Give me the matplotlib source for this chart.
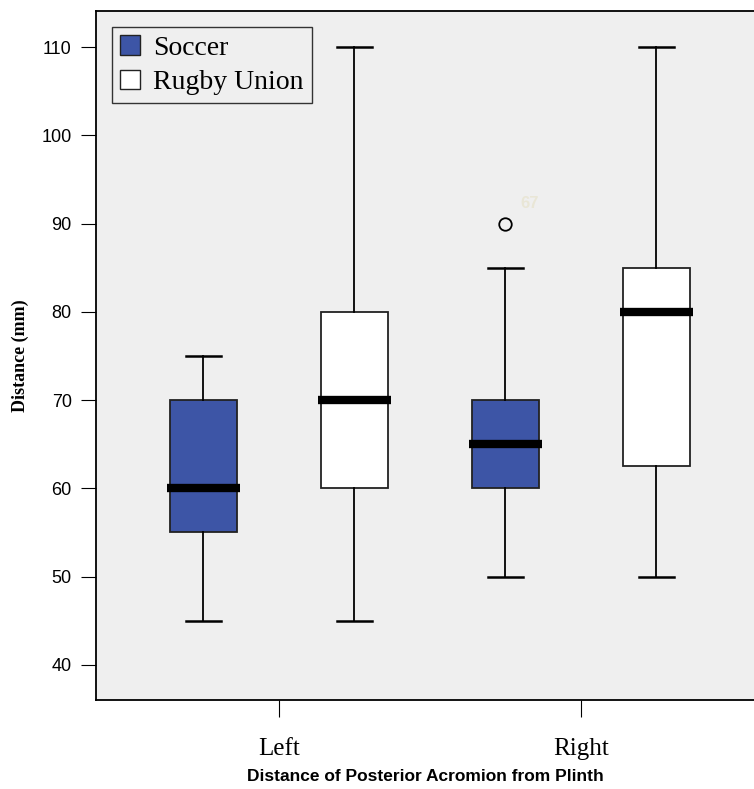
import matplotlib
matplotlib.use("Agg")
import matplotlib.pyplot as plt
from matplotlib.patches import Patch
import numpy as np

# Box summaries (mm)
sides = ["Left", "Right"]
groups = ["Soccer", "Rugby Union"]
group_colors = ["#3d55a6", "#ffffff"]
whislo = {"Soccer": [45, 50], "Rugby Union": [45, 50]}
q1 = {"Soccer": [55, 60], "Rugby Union": [60, 62.5]}
med = {"Soccer": [60, 65], "Rugby Union": [70, 80]}
q3 = {"Soccer": [70, 70], "Rugby Union": [80, 85]}
whishi = {"Soccer": [75, 85], "Rugby Union": [110, 110]}
fliers = {"Soccer": [[], [90]], "Rugby Union": [[], []]}
flier_ids = {"Soccer": [[], ["67"]], "Rugby Union": [[], []]}
yticks = [40, 50, 60, 70, 80, 90, 100, 110]

serif = ["Liberation Serif", "DejaVu Serif"]
sans = ["Liberation Sans", "DejaVu Sans"]

fig = plt.figure(figsize=(7.54, 7.89), dpi=100)
ax = fig.add_axes([0.1273, 0.1128, 0.8727, 0.8732])
ax.set_facecolor("#efefef")

offsets = [-0.25, 0.25]
for g, name in enumerate(groups):
    stats = []
    for i in range(len(sides)):
        stats.append(dict(med=med[name][i], q1=q1[name][i], q3=q3[name][i],
                          whislo=whislo[name][i], whishi=whishi[name][i],
                          fliers=fliers[name][i]))
    pos = np.arange(1, len(sides) + 1) + offsets[g]
    ax.bxp(stats, positions=pos, widths=0.22, patch_artist=True,
           boxprops=dict(facecolor=group_colors[g], edgecolor="#222222", linewidth=1.3),
           medianprops=dict(color="black", linewidth=6, solid_capstyle="butt"),
           whiskerprops=dict(color="black", linewidth=1.3),
           capprops=dict(color="black", linewidth=1.8),
           capwidths=0.113,
           flierprops=dict(marker="o", markersize=9, markerfacecolor="none",
                           markeredgecolor="black", markeredgewidth=1.3))
    # case number next to the outlier, as in the original (very faint)
    for i in range(len(sides)):
        for val, lab in zip(fliers[name][i], flier_ids[name][i]):
            ax.text(pos[i] + 0.05, val + 1.4, lab, fontsize=12, fontweight="bold",
                    color="#e9e6d6", family=sans, ha="left", va="bottom")

# median bars a bit wider than the boxes
for line in ax.lines:
    xd = line.get_xdata()
    if line.get_linewidth() == 6:
        c = (xd[0] + xd[1]) / 2
        line.set_xdata([c - 0.122, c + 0.122])

ax.set_xlim(0.394, 2.573)
ax.set_ylim(36.0, 114.1)
ax.set_xticks([1, 2])
ax.set_xticklabels(sides, family=serif, fontsize=18)
ax.set_yticks(yticks)
ax.set_yticklabels([str(t) for t in yticks], family=sans, fontsize=13)
ax.tick_params(axis="y", direction="out", length=10.5, width=0.8, pad=7)
ax.tick_params(axis="x", direction="out", length=12.5, width=0.8, pad=15)

for s in ["top", "left", "bottom"]:
    ax.spines[s].set_linewidth(1.3)
ax.spines["right"].set_visible(False)

ax.set_ylabel("Distance (mm)", family=serif, fontweight="bold", fontsize=13, labelpad=9)
ax.set_xlabel("Distance of Posterior Acromion from Plinth", family=sans,
              fontweight="bold", fontsize=12.5, labelpad=6)

handles = [Patch(facecolor=c, edgecolor="#222222", linewidth=1) for c in group_colors]
leg = ax.legend(handles, groups, loc="upper left", bbox_to_anchor=(0.024, 0.977),
                prop=dict(family=serif, size=20), frameon=True, fancybox=False,
                handlelength=0.7, handleheight=0.7, handletextpad=0.5,
                borderpad=0.3, labelspacing=0.32, borderaxespad=0)
leg.get_frame().set_facecolor("#efefef")
leg.get_frame().set_edgecolor("#333333")
leg.get_frame().set_linewidth(1.0)
leg.get_frame().set_alpha(1)

fig.savefig("out.png", dpi=100)
